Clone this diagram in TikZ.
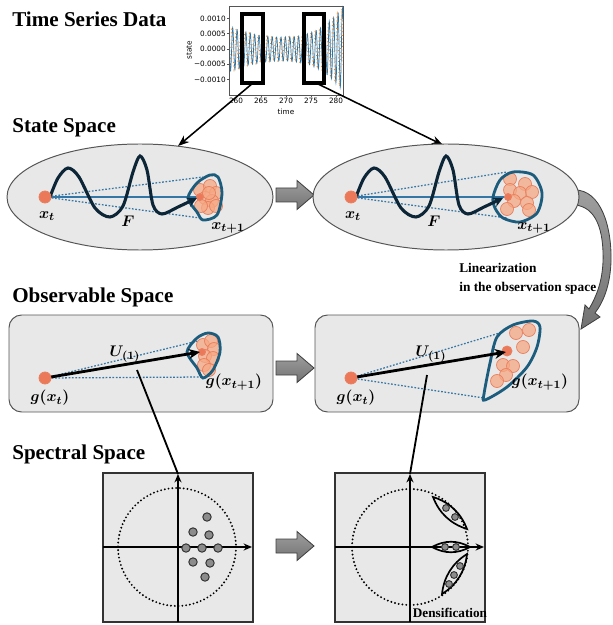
\documentclass[tikz,border=0pt]{standalone}
\usepackage{fontspec}
\setmainfont{Liberation Serif}
\newfontfamily\plotfont{DejaVu Sans}
\usepackage{amsmath,bm}
\usetikzlibrary{arrows.meta}

\definecolor{spacegray}{RGB}{232,232,232}
\definecolor{edgegray}{RGB}{85,85,85}
\definecolor{wavecol}{RGB}{12,38,56}
\definecolor{hullcol}{RGB}{28,92,125}
\definecolor{linkblue}{RGB}{52,118,165}
\definecolor{salmon}{RGB}{246,168,132}
\definecolor{salmonedge}{RGB}{232,128,95}
\definecolor{seedcol}{RGB}{236,120,90}
\definecolor{plotblue}{RGB}{31,119,180}
\definecolor{plotorange}{RGB}{255,127,14}

\tikzset{
  title/.style={anchor=base west, inner sep=0pt, font=\fontsize{15}{18}\selectfont\bfseries},
  lbl/.style={inner sep=0pt, font=\fontsize{11}{13}\selectfont},
  tick/.style={inner sep=0pt, font=\fontsize{5.2}{6}\selectfont\plotfont},
  space/.style={fill=spacegray, draw=edgegray, line width=0.7pt},
  bigarrow/.style={top color=black!38, bottom color=black!55, draw=black!75, line width=0.6pt},
  window/.style={draw=black, line width=2.2pt},
  link/.style={line width=1.1pt, -{Stealth[length=8pt, width=6pt]}},
  guide/.style={linkblue, line width=0.9pt, dash pattern=on 1.2pt off 1.2pt},
  flow/.style={linkblue, line width=1pt},
  wave line/.style={wavecol, line width=2.2pt, line cap=round, -{Stealth[length=7pt, width=7pt]}},
  koop/.style={black, line width=2pt, -{Stealth[length=8pt, width=7pt]}},
  cloud/.style={fill=salmon, draw=salmonedge, line width=0.5pt, fill opacity=0.75},
  seed/.style={fill=seedcol, draw=salmonedge, line width=0.6pt},
  hull/.style={hullcol, line width=2pt},
  axis line/.style={line width=1.3pt, -{Stealth[length=6pt, width=5pt]}},
  unit circle/.style={line width=1.5pt, line cap=round, dash pattern=on 0pt off 2.7pt},
  eig/.style={fill=black!45, draw=black!80, line width=0.7pt},
  leaf/.style={line width=1.2pt},
  tie/.style={line width=1.3pt}
}

\begin{document}
\begin{tikzpicture}[x=0.25mm, y=-0.25mm,
    declare function={amp(\u)=12+0.1*(\u-9)*(\u-9)+0.2*max(0,\u-13)*max(0,\u-13);}]
    \useasboundingbox (0,0) rectangle (612,625);

    %% section titles
    \node[title] (tsTitle) at (12,27) {Time Series Data};
    \node[title] (stTitle) at (12,133) {State Space};
    \node[title] (obTitle) at (12,302) {Observable Space};
    \node[title] (spTitle) at (12,459) {Spectral Space};

    %% time series plot
    \begin{scope}
        \clip (229,6) rectangle (343,95);
        \draw[plotblue, line width=0.5pt] plot[domain=-1.4:21.4, samples=500]
            ({236+5*\x}, {49-amp(\x)*sin(410*\x)});
        \draw[plotorange, line width=0.6pt, dotted] plot[domain=-1.4:21.4, samples=500]
            ({236+5*\x}, {49-amp(\x)*sin(410*\x+70)});
    \end{scope}
    \draw[edgegray, line width=0.4pt] (229,6) rectangle (343,95);
    \foreach \t in {260,265,...,280} {
        \draw[edgegray, line width=0.4pt] ({236+5*(\t-260)},95) -- ++(0,2);
        \node[tick, anchor=north] (tx\t) at ({236+5*(\t-260)},98) {\t};
    }
    \foreach \k/\lab in {2/0.0010, 1/0.0005, 0/0.0000, -1/−0.0005, -2/−0.0010} {
        \draw[edgegray, line width=0.4pt] (229,{49-15.3*\k}) -- ++(-2,0);
        \node[tick, anchor=east] (ty\k) at (226,{49-15.3*\k}) {\lab};
    }
    \node[tick, rotate=90] (yname) at (189,50) {state};
    \node[tick] (xname) at (286,112) {time};
    %% windows cut out of the series
    \draw[window] (242,14) rectangle (263,83);
    \draw[window] (304,14) rectangle (324,83);
    \coordinate (winL) at (253,83);
    \coordinate (winR) at (316,83);
    \coordinate (stateL) at (178,146);
    \coordinate (stateR) at (443,145);
    \draw[link] (winL) -- (stateL);
    \draw[link] (winR) -- (stateR);

    %% gray arrows between panels
    \foreach \y in {195,368,546}
        \draw[bigarrow] (276,\y) ++(0,-7) -- ++(21,0) -- ++(0,-7.5) -- ++(17,14.5)
            -- ++(-17,14.5) -- ++(0,-7.5) -- ++(-21,0) -- cycle;

    %% curved arrow down to the observable space
    \draw[bigarrow] (575,190) .. controls (600,190) and (612,225) .. (611,262)
        .. controls (610,285) and (604,301) .. (595,313)
        -- (600,317) -- (581,329) -- (585,305) -- (589,309)
        .. controls (596,297) and (602,283) .. (603,262)
        .. controls (604,230) and (596,207) .. (575,205) -- cycle;
    \node[anchor=north west, inner sep=0pt, align=left,
        font=\fontsize{9.5}{13.5}\selectfont\bfseries] (linNote) at (459,263)
        {Linearization\\in the observation space};

    %% panel backgrounds
    \foreach \dx in {0,306} {
        \draw[space] ({140+\dx},197) ellipse [x radius=133, y radius=53];
        \draw[space, rounded corners=9pt] ({9+\dx},315) rectangle ({273+\dx},412);
    }

    %% left state cluster
    \draw[guide] (45,197) -- (203,177);
    \draw[guide] (45,197) -- (200,218);
    \draw[flow] (45,197) -- (200,197);
    \foreach \p in {(200,190),(210,186),(216,193),(205,198),(212,201),(208,208),(201,206),(216,206),(209,193)}
        \filldraw[cloud] \p circle [radius=6.5];
    \filldraw[seed] (200,197) circle [radius=3.5];
    \draw[hull] plot[smooth cycle] coordinates {(188,198) (197,183) (210,175) (218,177) (222,193) (217,215) (203,220) (197,212)};

    %% right state cluster
    \draw[guide] (351,197) -- (507,172);
    \draw[guide] (351,197) -- (507,218);
    \draw[flow] (351,197) -- (508,197);
    \foreach \p in {(510,179),(525,184),(510,190),(520,193),(532,192),(514,201),(527,203),(507,209),(529,210)}
        \filldraw[cloud] \p circle [radius=6.5];
    \filldraw[seed] (508,197) circle [radius=3.5];
    \draw[hull] plot[smooth cycle] coordinates {(493,197) (500,180) (513,172) (533,175) (542,193) (537,213) (520,222) (503,218) (495,208)};

    %% left observable cluster
    \draw[guide] (45,378) -- (198,341);
    \draw[guide] (45,378) -- (203,377);
    \foreach \p in {(203,345),(211,341),(214,349),(205,356),(213,358),(204,365),(209,370)}
        \filldraw[cloud] \p circle [radius=6.5];
    \filldraw[seed] (202,352) circle [radius=3.5];
    \draw[hull] plot[smooth cycle] coordinates {(187,352) (197,338) (208,333) (218,337) (220,352) (213,370) (203,378) (197,368)};

    %% right observable cluster
    \draw[guide] (351,378) -- (503,332);
    \draw[guide] (351,378) -- (484,398);
    \foreach \p in {(516,333),(529,330),(523,347),(503,365),(513,366),(506,375),(497,381)}
        \filldraw[cloud] \p circle [radius=6.5];
    \filldraw[seed] (507,351) circle [radius=5];
    \draw[hull] plot[smooth cycle, tension=0.5] coordinates {(497,337) (513,325) (533,321) (540,327) (537,347) (527,367) (507,387) (485,400) (484,394) (490,363)};

    %% flow, maps and labels, same in both columns
    \foreach \dx/\i in {0/L,306/R} {
        \begin{scope}[shift={(\dx,0)}]
            \draw[wave line] plot[smooth] coordinates {(50,197) (58,178) (68,168) (79,177) (95,208) (110,217)
                (123,206) (133,172) (140,156) (147,170) (153,205) (162,214) (178,207) (197,198)};
            \filldraw[seed] (45,197) circle [radius=6];
            \node[lbl] (xt\i) at (47,216) {$\bm{x_t}$};
            \node[lbl] (F\i) at (128,221) {$\bm{F}$};
            \node[lbl] (xn\i) at (228,228) {$\bm{x_{t+1}}$};
            \draw[koop] (45,378) -- (200,352);
            \filldraw[seed] (45,378) circle [radius=6];
            \node[lbl] (U\i) at (125,354) {$\bm{U_{(1)}}$};
            \node[lbl] (gx\i) at (50,398) {$\bm{g(x_t)}$};
            \node[lbl] (gn\i) at (234,382) {$\bm{g(x_{t+1})}$};
        \end{scope}
    }

    %% spectral planes
    \draw[space, fill=spacegray, draw=black!80, line width=1pt] (103,473) rectangle (253,622);
    \draw[space, fill=spacegray, draw=black!80, line width=1pt] (335,473) rectangle (485,622);
    \draw[axis line] (103,547) -- (252,547);
    \draw[axis line] (178,622) -- (178,474);
    \draw[axis line] (335,547) -- (484,547);
    \draw[axis line] (410,622) -- (410,474);
    \draw[unit circle] (177,547) circle [radius=59];
    \draw[unit circle] (410,547) circle [radius=58];
    \foreach \p in {(207,517),(193,532),(209,535),(186,548),(202,548),(218,548),(193,562),(210,563),(205,577)}
        \filldraw[eig] \p circle [radius=4.2];
    %% eigenvalues gathered near the unit circle
    \draw[leaf] (433,497) .. controls (439.2,513.2) and (450.6,523.8) .. (467,529)
        .. controls (460.8,512.8) and (449.4,502.2) .. (433,497) -- cycle;
    \draw[leaf] (432,547) .. controls (444.7,554) and (457.3,554) .. (470,547)
        .. controls (457.3,540) and (444.7,540) .. (432,547) -- cycle;
    \draw[leaf] (442,594) .. controls (456.7,584.7) and (465.1,571.3) .. (467,554)
        .. controls (452.3,563.3) and (443.9,576.7) .. (442,594) -- cycle;
    \foreach \p in {(446,508),(455,517),(445,547),(456,547),(460,566),(454,575),(449,584)}
        \filldraw[eig] \p circle [radius=3.4];
    \node[inner sep=0pt, font=\fontsize{9.4}{11}\selectfont\bfseries] (dens) at (450,613) {Densification};

    %% observable space to spectrum
    \coordinate (obsL) at (137,370);
    \coordinate (obsR) at (427,375);
    \coordinate (specL) at (178,474);
    \coordinate (specR) at (410,474);
    \draw[tie] (obsL) -- (specL);
    \draw[tie] (obsR) -- (specR);
\end{tikzpicture}
\end{document}
